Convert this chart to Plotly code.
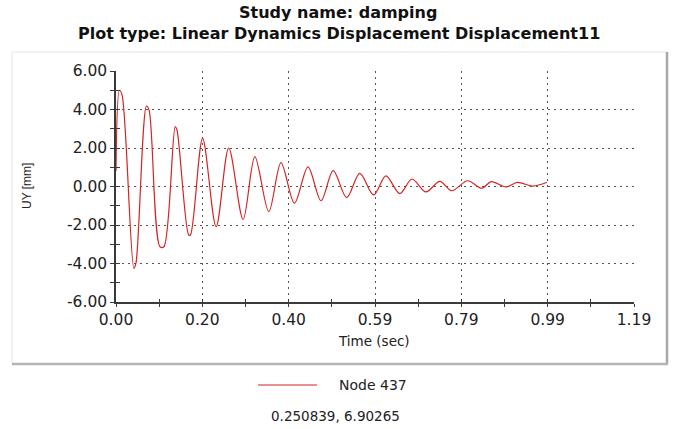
import plotly.graph_objects as go

# ---- data ----
time_s = [0.000, 0.008, 0.014, 0.041, 0.046, 0.070, 0.076, 0.101, 0.110, 0.136, 0.140,
          0.167, 0.171, 0.199, 0.230, 0.259, 0.292, 0.319, 0.351, 0.379, 0.410, 0.441,
          0.471, 0.499, 0.530, 0.560, 0.592, 0.620, 0.652, 0.680, 0.712, 0.744, 0.771,
          0.808, 0.840, 0.862, 0.896, 0.922, 0.958, 0.990]
uy_mm = [0.80, 5.00, 4.75, -4.25, -3.95, 4.18, 3.97, -3.13, -3.13, 3.11, 2.95,
         -2.52, -2.52, 2.50, -2.09, 2.00, -1.71, 1.55, -1.31, 1.24, -0.87, 1.02,
         -0.74, 0.82, -0.58, 0.68, -0.44, 0.55, -0.37, 0.39, -0.28, 0.27, -0.22,
         0.30, -0.09, 0.25, -0.02, 0.21, 0.02, 0.22]
x_tick_labels = ["0.00", "0.20", "0.40", "0.59", "0.79", "0.99", "1.19"]
y_tick_values = [-6, -4, -2, 0, 2, 4, 6]
y_tick_labels = ["-6.00", "-4.00", "-2.00", "0.00", "2.00", "4.00", "6.00"]
X_MAX = 1.19
Y_MIN, Y_MAX = -6.0, 6.0
series_name = "Node 437"
title_line1 = "Study name: damping"
title_line2 = "Plot type: Linear Dynamics Displacement Displacement11"
cursor_text = "0.250839, 6.90265"

# ---- layout geometry (pixels) ----
W, H = 675, 429
L, R, T, B = 116, 634, 71, 302
pw, ph = R - L, B - T


def px(x):
    return (x - L) / pw


def py(y):
    return (B - y) / ph


n_int = len(x_tick_labels) - 1
x_tickvals = [i * X_MAX / n_int for i in range(len(x_tick_labels))]

FONT = "DejaVu Sans"
TXT = "#222222"
AX = "#3a3a3a"
GRID = "#555555"

fig = go.Figure()
fig.add_trace(go.Scatter(
    x=time_s, y=uy_mm, mode="lines", name=series_name,
    line=dict(color="#d42424", width=1.2, shape="spline", smoothing=0.9),
    showlegend=False, xaxis="x", yaxis="y",
))

common = dict(showline=True, linecolor=AX, linewidth=1.5, zeroline=False,
              tickcolor=AX, tickwidth=1.2)

fig.update_layout(
    width=W, height=H,
    margin=dict(l=L, r=W - R, t=T, b=H - B, pad=0),
    paper_bgcolor="white", plot_bgcolor="white",
    font=dict(family=FONT, color=TXT),
    xaxis=dict(range=[0, X_MAX], tickmode="array", tickvals=x_tickvals,
               ticktext=x_tick_labels, ticks="outside", ticklen=3,
               ticklabelstandoff=0,
               tickfont=dict(size=15.5, family=FONT, color=TXT),
               showgrid=True, gridcolor=GRID, gridwidth=1, griddash="2px,4px",
               minor=dict(ticks="outside", ticklen=3, tick0=X_MAX / (2 * n_int),
                          dtick=X_MAX / n_int, tickcolor=AX, tickwidth=1.2,
                          showgrid=False),
               **common),
    yaxis=dict(range=[Y_MIN, Y_MAX], tickmode="array", tickvals=y_tick_values,
               ticktext=y_tick_labels, ticks="outside", ticklen=4,
               tickfont=dict(size=15.5, family=FONT, color=TXT),
               showgrid=True, gridcolor=GRID, gridwidth=1, griddash="2px,4px",
               minor=dict(ticks="outside", ticklen=4, tick0=Y_MIN + 1, dtick=2,
                          tickcolor=AX, tickwidth=1.2, showgrid=False),
               **common),
    xaxis2=dict(range=[0, X_MAX], overlaying="x", anchor="y", side="bottom",
                tickmode="array", tickvals=x_tickvals, ticks="inside", ticklen=3,
                showticklabels=False, showgrid=False, showline=False, zeroline=False,
                tickcolor=AX, tickwidth=1.2,
                minor=dict(ticks="inside", ticklen=3, tick0=X_MAX / (2 * n_int),
                           dtick=X_MAX / n_int, tickcolor=AX, tickwidth=1.2)),
    yaxis2=dict(range=[Y_MIN, Y_MAX], overlaying="y", anchor="x", side="left",
                tickmode="array", tickvals=y_tick_values, ticks="inside", ticklen=4,
                showticklabels=False, showgrid=False, showline=False, zeroline=False,
                tickcolor=AX, tickwidth=1.2,
                minor=dict(ticks="inside", ticklen=4, tick0=Y_MIN + 1, dtick=2,
                           tickcolor=AX, tickwidth=1.2)),
)

# invisible trace so the overlay (crossing-tick) axes get drawn
fig.add_trace(go.Scatter(x=[None], y=[None], xaxis="x2", yaxis="y2",
                         showlegend=False, hoverinfo="skip"))

shapes = [
    # panel frame
    dict(type="line", xref="paper", yref="paper", x0=px(12), x1=px(667), y0=py(52), y1=py(52),
         line=dict(color="#ececec", width=1.5)),
    dict(type="line", xref="paper", yref="paper", x0=px(12), x1=px(12), y0=py(52), y1=py(364),
         line=dict(color="#ececec", width=1.5)),
    dict(type="line", xref="paper", yref="paper", x0=px(667), x1=px(667), y0=py(52), y1=py(364),
         line=dict(color="#a8a8a8", width=2.5)),
    dict(type="line", xref="paper", yref="paper", x0=px(12), x1=px(668), y0=py(364), y1=py(364),
         line=dict(color="#b4b4b4", width=2.5)),
    # legend sample line
    dict(type="line", xref="paper", yref="paper", x0=px(258), x1=px(317), y0=py(385), y1=py(385),
         line=dict(color="#d42424", width=1.2)),
]
fig.update_layout(shapes=shapes)

ann = [
    dict(text="<b>%s</b>" % title_line1, x=px(337.5), y=py(12.5), font=dict(size=16, color="#111111"),
         xanchor="center", yanchor="middle"),
    dict(text="<b>%s</b>" % title_line2, x=px(338.5), y=py(33), font=dict(size=16, color="#111111"),
         xanchor="center", yanchor="middle"),
    dict(text="Time (sec)", x=px(374), y=py(341), font=dict(size=13.5, color=TXT),
         xanchor="center", yanchor="middle"),
    dict(text="UY [mm]", x=px(27), y=py(186), textangle=-90,
         font=dict(size=12, color=TXT, family="Liberation Sans"),
         xanchor="center", yanchor="middle"),
    dict(text=series_name, x=px(337), y=py(385), font=dict(size=14, color=TXT),
         xanchor="left", yanchor="middle"),
    dict(text=cursor_text, x=px(335), y=py(416), font=dict(size=13.5, color=TXT),
         xanchor="center", yanchor="middle"),
]
for a in ann:
    a.update(xref="paper", yref="paper", showarrow=False)
fig.update_layout(annotations=ann)

fig.write_html("out.html")
